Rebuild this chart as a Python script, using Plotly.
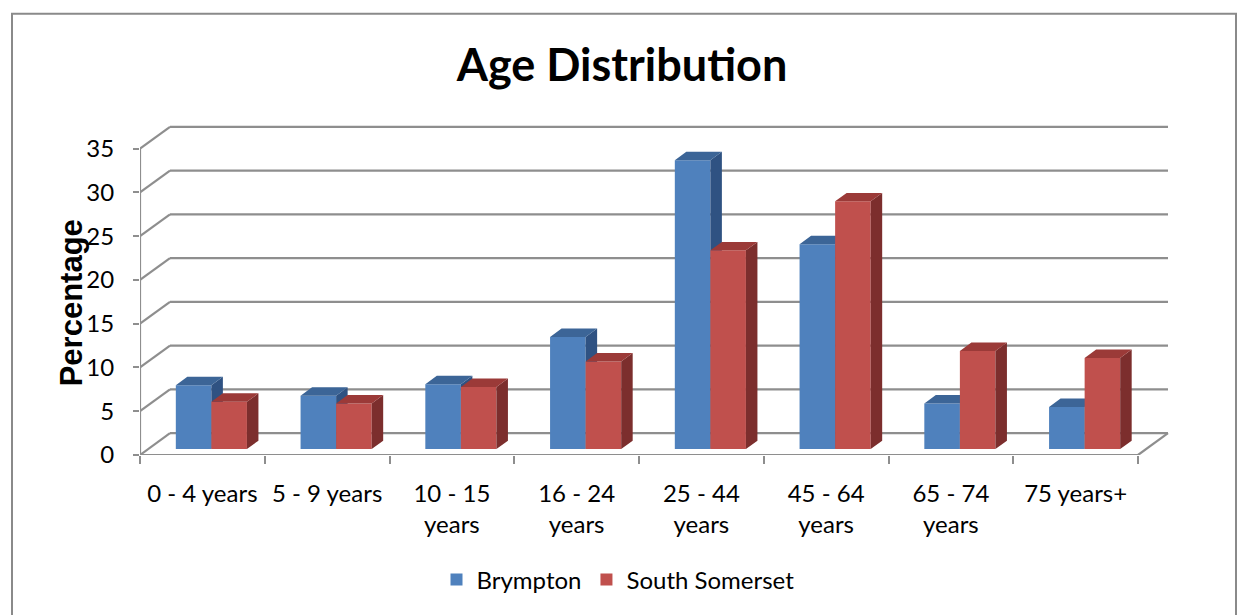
import plotly.graph_objects as go

# ---------------- data ----------------
categories = ["0 - 4 years", "5 - 9 years", "10 - 15<br>years", "16 - 24<br>years",
              "25 - 44<br>years", "45 - 64<br>years", "65 - 74<br>years", "75 years+"]
brympton = [7.3, 6.1, 7.4, 12.8, 33.0, 23.4, 5.2, 4.8]
south_somerset = [5.4, 5.2, 7.1, 10.0, 22.7, 28.3, 11.2, 10.4]
series_names = ["Brympton", "South Somerset"]
y_ticks = [0, 5, 10, 15, 20, 25, 30, 35]

# ---------------- styling / geometry ----------------
FONT = "Lato"
PX_U = 124.75          # pixels per category
PX_V = 8.83            # pixels per percentage point
L, R, T, B = 140, 60, 110, 157
W, H = 1240, 615
x_range = [0, (W - L - R) / PX_U]
y_range = [0, (H - T - B) / PX_V]

du_w, dv_w = 30 / PX_U, 22 / PX_V      # wall depth
du_b, dv_b = 9 / PX_U, 6 / PX_V        # bar front-face offset into depth
du_d, dv_d = 11.5 / PX_U, 8.5 / PX_V   # bar depth
bar_w = 0.285

front = ["#4F81BD", "#C0504D"]
topc = ["#3C6597", "#9B3A38"]
sidec = ["#2F5282", "#7C2E2D"]
grid_col = "#8E8E8E"

n = len(categories)
centers = [i + 0.5 + du_b for i in range(n)]

fig = go.Figure()

series = [brympton, south_somerset]
for s, vals in enumerate(series):
    fig.add_trace(go.Bar(
        x=centers, y=vals, base=[dv_b] * n, name=series_names[s],
        marker=dict(color=front[s], line=dict(width=0)),
        zorder=2 * s + 1, hoverinfo="skip",
    ))
    # side and top faces
    xs_side, ys_side, xs_top, ys_top = [], [], [], []
    for i, v in enumerate(vals):
        left = centers[i] - bar_w if s == 0 else centers[i]
        right = left + bar_w
        t = dv_b + v
        xs_side += [right, right + du_d, right + du_d, right, right, None]
        ys_side += [dv_b, dv_b + dv_d, t + dv_d, t, dv_b, None]
        xs_top += [left, left + du_d, right + du_d, right, left, None]
        ys_top += [t, t + dv_d, t + dv_d, t, t, None]
    fig.add_trace(go.Scatter(x=xs_side, y=ys_side, mode="lines", fill="toself",
                             fillcolor=sidec[s], line=dict(width=0, color=sidec[s]),
                             showlegend=False, hoverinfo="skip", zorder=2 * s + 2))
    fig.add_trace(go.Scatter(x=xs_top, y=ys_top, mode="lines", fill="toself",
                             fillcolor=topc[s], line=dict(width=0, color=topc[s]),
                             showlegend=False, hoverinfo="skip", zorder=2 * s + 2))

# walls / grid
shapes = []
for v in y_ticks:
    shapes.append(dict(type="line", xref="x", yref="y", x0=du_w, y0=v + dv_w,
                       x1=n + du_w, y1=v + dv_w, line=dict(color=grid_col, width=2.2), layer="below"))
    shapes.append(dict(type="line", xref="x", yref="y", x0=0, y0=v,
                       x1=du_w, y1=v + dv_w, line=dict(color=grid_col, width=2.2), layer="below"))
# front vertical axis
shapes.append(dict(type="line", xref="x", yref="y", x0=0, y0=0, x1=0, y1=y_ticks[-1],
                   line=dict(color=grid_col, width=2.2), layer="below"))
# floor front edge and right edge
shapes.append(dict(type="line", xref="x", yref="y", x0=0, y0=0, x1=n, y1=0,
                   line=dict(color=grid_col, width=2.2), layer="below"))
shapes.append(dict(type="line", xref="x", yref="y", x0=n, y0=0, x1=n + du_w, y1=dv_w,
                   line=dict(color=grid_col, width=2.2), layer="below"))
# chart border
shapes.append(dict(type="rect", xref="paper", yref="paper",
                   x0=(12 - L) / (W - L - R), x1=(1236 - L) / (W - L - R),
                   y0=(H - B - 640) / (H - T - B), y1=(H - B - 13) / (H - T - B),
                   line=dict(color="#8A8A8A", width=2), layer="below"))

fig.update_layout(
    width=W, height=H,
    margin=dict(l=L, r=R, t=T, b=B),
    paper_bgcolor="white", plot_bgcolor="rgba(0,0,0,0)",
    barmode="group", bargap=1 - 2 * bar_w, bargroupgap=0,
    shapes=shapes,
    title=dict(text="<b>Age Distribution</b>", x=622 / W, xref="container", xanchor="center",
               y=1 - 65 / H, yref="container", yanchor="middle",
               font=dict(family=FONT, size=45, color="black")),
    legend=dict(orientation="h", x=(618 - L) / (W - L - R), xanchor="center",
                y=(H - B - 584) / (H - T - B), yanchor="middle",
                font=dict(family=FONT, size=24, color="black"), traceorder="normal",
                bgcolor="rgba(0,0,0,0)"),
    annotations=[dict(text="<b>Percentage</b>", textangle=-90, showarrow=False,
                      xref="paper", yref="paper",
                      x=(71 - L) / (W - L - R), y=(H - B - 305) / (H - T - B),
                      xanchor="center", yanchor="middle",
                      font=dict(family="Liberation Sans", size=31, color="black"))],
    xaxis=dict(range=x_range, showgrid=False, zeroline=False, showline=False,
               tickmode="array", tickvals=[i + 0.5 for i in range(n)], ticktext=categories,
               ticks="", ticklabelstandoff=22,
               tickfont=dict(family=FONT, size=24, color="black"),
               minor=dict(tickmode="array", tickvals=list(range(n + 1)), ticks="outside",
                          ticklen=8, tickcolor=grid_col, tickwidth=2, showgrid=False),
               fixedrange=True),
    yaxis=dict(range=y_range, showgrid=False, zeroline=False, showline=False,
               tickmode="array", tickvals=y_ticks, ticks="outside", ticklen=6,
               tickcolor=grid_col, tickwidth=2, ticklabelstandoff=14,
               tickfont=dict(family=FONT, size=24, color="black"), fixedrange=True),
)

fig.write_html("out.html", config={"displayModeBar": False},
               post_script="document.body.style.margin='0';document.body.style.overflow='hidden';")
